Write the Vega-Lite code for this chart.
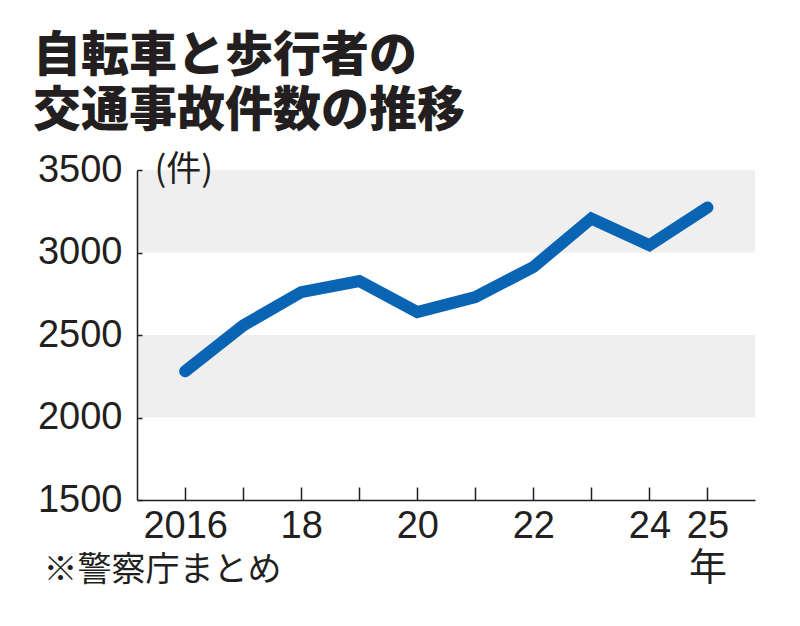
{
  "$schema": "https://vega.github.io/schema/vega-lite/v6.json",
  "autosize": "none",
  "width": 618,
  "height": 330,
  "padding": {"left": 137, "top": 170, "right": 45, "bottom": 126},
  "background": "white",
  "title": {
    "text": ["自転車と歩行者の", "交通事故件数の推移"],
    "font": "Noto Sans CJK JP",
    "fontSize": 48,
    "fontWeight": 900,
    "lineHeight": 55,
    "color": "#231f20",
    "anchor": "start",
    "frame": "group",
    "dx": -104,
    "offset": 15
  },
  "config": {
    "view": {"stroke": null},
    "axis": {
      "grid": false,
      "domainColor": "#231f20",
      "domainWidth": 1.5,
      "tickColor": "#231f20",
      "tickWidth": 1.5,
      "labelColor": "#231f20",
      "labelFont": "Liberation Sans, Noto Sans CJK JP",
      "labelFontSize": 38,
      "titleColor": "#231f20",
      "titleFont": "Noto Sans CJK JP",
      "titleFontWeight": "normal"
    }
  },
  "datasets": {
    "bands": [
      {"lo": 2000, "hi": 2500},
      {"lo": 3000, "hi": 3500}
    ],
    "accidents": [
      {"year": 2016, "count": 2280},
      {"year": 2017, "count": 2558},
      {"year": 2018, "count": 2760},
      {"year": 2019, "count": 2827},
      {"year": 2020, "count": 2639},
      {"year": 2021, "count": 2730},
      {"year": 2022, "count": 2912},
      {"year": 2023, "count": 3206},
      {"year": 2024, "count": 3044},
      {"year": 2025, "count": 3273}
    ]
  },
  "layer": [
    {
      "data": {"name": "bands"},
      "mark": {"type": "rect", "color": "#efefef"},
      "encoding": {
        "y": {"field": "lo", "type": "quantitative", "scale": {"domain": [1500, 3500], "nice": false}},
        "y2": {"field": "hi"}
      }
    },
    {
      "data": {"name": "accidents"},
      "mark": {"type": "line", "color": "#0a64b4", "strokeWidth": 12, "strokeCap": "round", "strokeJoin": "miter"},
      "encoding": {
        "x": {
          "field": "year",
          "type": "quantitative",
          "scale": {"domain": [2015.17, 2025.82], "nice": false, "zero": false},
          "axis": {
            "zindex": 1,
            "values": [2016, 2017, 2018, 2019, 2020, 2021, 2022, 2023, 2024, 2025],
            "format": "d",
            "labelExpr": "datum.value == 2016 ? datum.label : datum.value == 2025 ? ['25', '年'] : datum.value % 2 == 0 ? substring(datum.label, 2, 4) : ''",
            "tickSize": -13,
            "labelPadding": 20,
            "labelOverlap": false,
            "labelFlush": false,
            "labelLineHeight": 42,
            "title": "※警察庁まとめ",
            "titleFontSize": 34,
            "titleAlign": "left",
            "titleBaseline": "middle",
            "titleX": -94,
            "titleY": 70
          }
        },
        "y": {
          "field": "count",
          "type": "quantitative",
          "scale": {"domain": [1500, 3500], "nice": false, "zero": false},
          "axis": {
            "zindex": 1,
            "values": [1500, 2000, 2500, 3000, 3500],
            "format": "d",
            "tickSize": -5,
            "labelPadding": 20,
            "title": "(件)",
            "titleFontSize": 35,
            "titleAngle": 0,
            "titleAlign": "left",
            "titleBaseline": "middle",
            "titleX": 17,
            "titleY": -1
          }
        }
      }
    }
  ]
}
